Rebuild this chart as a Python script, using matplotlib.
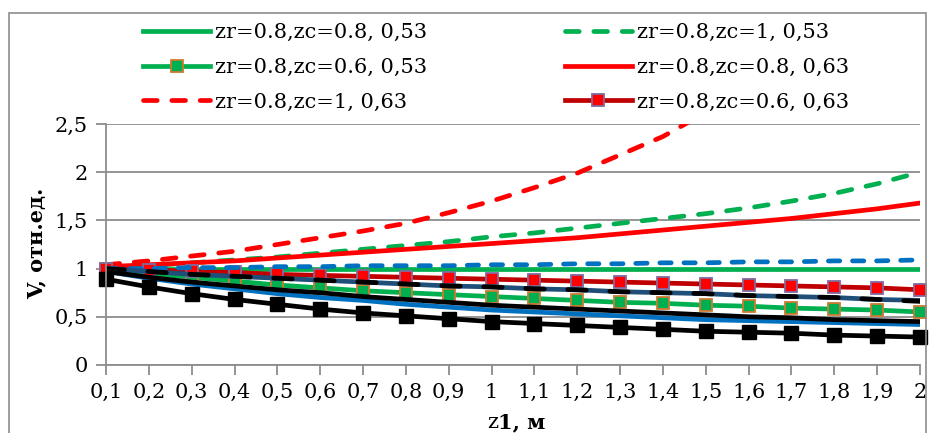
import numpy as np
import matplotlib.pyplot as plt
from matplotlib.patches import Rectangle

plt.rcParams['font.family'] = ['DejaVu Serif']

# z1, m
z_labels = ['0,1', '0,2', '0,3', '0,4', '0,5', '0,6', '0,7', '0,8', '0,9', '1',
            '1,1', '1,2', '1,3', '1,4', '1,5', '1,6', '1,7', '1,8', '1,9', '2']

# series in the legend
g_zc08 = [1.0] * 20
g_zc1 = [1.0, 1.03, 1.06, 1.09, 1.12, 1.16, 1.2, 1.24, 1.28, 1.33,
         1.37, 1.42, 1.47, 1.52, 1.57, 1.63, 1.7, 1.78, 1.88, 2.0]
g_zc06 = [1.0, 0.95, 0.91, 0.87, 0.83, 0.80, 0.77, 0.75, 0.73, 0.71,
          0.69, 0.67, 0.65, 0.64, 0.62, 0.61, 0.59, 0.58, 0.57, 0.55]
r_zc08 = [1.02, 1.04, 1.06, 1.08, 1.11, 1.14, 1.17, 1.20, 1.23, 1.26,
          1.29, 1.32, 1.36, 1.40, 1.44, 1.48, 1.52, 1.57, 1.62, 1.68]
r_zc1 = [1.04, 1.08, 1.13, 1.18, 1.25, 1.32, 1.39, 1.47, 1.58, 1.70,
         1.84, 1.99, 2.18, 2.37, 2.62, 2.92, 3.25, 3.6, 4.0, 4.5]
r_zc06 = [1.0, 0.99, 0.97, 0.96, 0.94, 0.93, 0.92, 0.91, 0.90, 0.89,
          0.88, 0.87, 0.86, 0.85, 0.84, 0.83, 0.82, 0.81, 0.80, 0.78]

# series not shown in the legend
blue_dash = [1.0, 1.0, 1.01, 1.01, 1.02, 1.02, 1.03, 1.03, 1.03, 1.04,
             1.04, 1.05, 1.05, 1.06, 1.06, 1.07, 1.07, 1.08, 1.08, 1.09]
navy = [1.0, 0.97, 0.94, 0.92, 0.90, 0.88, 0.86, 0.84, 0.82, 0.81,
        0.79, 0.78, 0.76, 0.75, 0.74, 0.72, 0.71, 0.70, 0.68, 0.67]
black_dash = [1.0, 0.97, 0.94, 0.92, 0.90, 0.88, 0.86, 0.84, 0.82, 0.81,
              0.79, 0.78, 0.76, 0.75, 0.74, 0.72, 0.71, 0.70, 0.68, 0.66]
blue_solid = [0.97, 0.90, 0.84, 0.79, 0.74, 0.70, 0.67, 0.63, 0.60, 0.57,
              0.55, 0.53, 0.51, 0.49, 0.47, 0.46, 0.45, 0.44, 0.43, 0.42]
black_solid = [0.97, 0.91, 0.86, 0.82, 0.78, 0.75, 0.71, 0.68, 0.65, 0.62,
               0.60, 0.58, 0.56, 0.54, 0.52, 0.50, 0.49, 0.47, 0.46, 0.45]
black_sq = [0.89, 0.81, 0.74, 0.68, 0.63, 0.58, 0.54, 0.51, 0.48, 0.45,
            0.43, 0.41, 0.39, 0.37, 0.35, 0.34, 0.33, 0.31, 0.30, 0.29]

x = np.arange(len(z_labels))
lw = 3.4
dash = dict(dashes=(2.9, 3.1), dash_capstyle='round')

fig = plt.figure(figsize=(9.31, 4.33), dpi=100)
fig.patches.append(Rectangle((9 / 931, -0.1), 917 / 931, 1 - 13 / 433 + 0.1,
                             transform=fig.transFigure, fill=False,
                             edgecolor='#8c8c8c', linewidth=1.2))
ax = fig.add_axes([106 / 931, 1 - 365 / 433, 814 / 931, 241 / 433])

l1, = ax.plot(x, g_zc08, color='#00B050', lw=lw, label='zr=0.8,zc=0.8, 0,53')
l2, = ax.plot(x, g_zc1, color='#00B050', lw=lw, label='zr=0.8,zc=1, 0,53',
              **dash)
l3, = ax.plot(x, g_zc06, color='#00B050', lw=lw, marker='s', ms=9,
              mfc='#00B050', mec='#D07A30', mew=1.3, clip_on=False,
              label='zr=0.8,zc=0.6, 0,53')
l4, = ax.plot(x, r_zc08, color='#FF0000', lw=lw, label='zr=0.8,zc=0.8, 0,63')
l5, = ax.plot(x, r_zc1, color='#FF0000', lw=lw, label='zr=0.8,zc=1, 0,63',
              **dash)
l6, = ax.plot(x, r_zc06, color='#C00000', lw=lw, marker='s', ms=9,
              mfc='#FF0000', mec='#7F6A9F', mew=1.3, clip_on=False,
              label='zr=0.8,zc=0.6, 0,63')

ax.plot(x, blue_dash, color='#0070C0', lw=lw, dashes=(2.4, 2.7),
        dash_capstyle='round')
ax.plot(x, navy, color='#1F4E79', lw=lw)
ax.plot(x, black_dash, color='black', lw=lw, dashes=(3.9, 5.0),
        dash_capstyle='round')
ax.plot(x, blue_solid, color='#0070C0', lw=lw)
ax.plot(x, black_solid, color='black', lw=lw)
ax.plot(x, black_sq, color='black', lw=lw, marker='s', ms=10,
        mfc='black', mec='black', clip_on=False)

ax.set_xlim(0, 19)
ax.set_ylim(0, 2.5)
ax.set_xticks(x)
ax.set_xticklabels(z_labels)
ax.set_yticks([0, 0.5, 1, 1.5, 2, 2.5])
ax.set_yticklabels(['0', '0,5', '1', '1,5', '2', '2,5'])
ax.tick_params(labelsize=15, color='#8c8c8c', length=7, width=1.3, pad=6)
ax.grid(axis='y', color='#8c8c8c', lw=1.3)
ax.set_axisbelow(True)
for s in ['top', 'right']:
    ax.spines[s].set_visible(False)
for s in ['left', 'bottom']:
    ax.spines[s].set_color('#8c8c8c')
    ax.spines[s].set_linewidth(1.3)

fig.text(36 / 931, 1 - 243 / 433, 'V, отн.ед.', rotation=90, fontsize=15,
         fontweight='bold', ha='center', va='center')
fig.text(498 / 931, 1 - 422 / 433, 'z', fontsize=15, ha='right', va='center')
fig.text(498 / 931, 1 - 422 / 433, '1, м', fontsize=15, fontweight='bold',
         ha='left', va='center')

# Excel fills the legend row by row
fig.legend(handles=[l1, l3, l5, l2, l4, l6], ncol=2, frameon=False,
           loc='upper left', bbox_to_anchor=(135 / 931, 1 - 15 / 433),
           fontsize=15, handlelength=3.2, handletextpad=0.25,
           columnspacing=6.6, labelspacing=0.75, borderaxespad=0)

fig.savefig('out.png', dpi=100)
